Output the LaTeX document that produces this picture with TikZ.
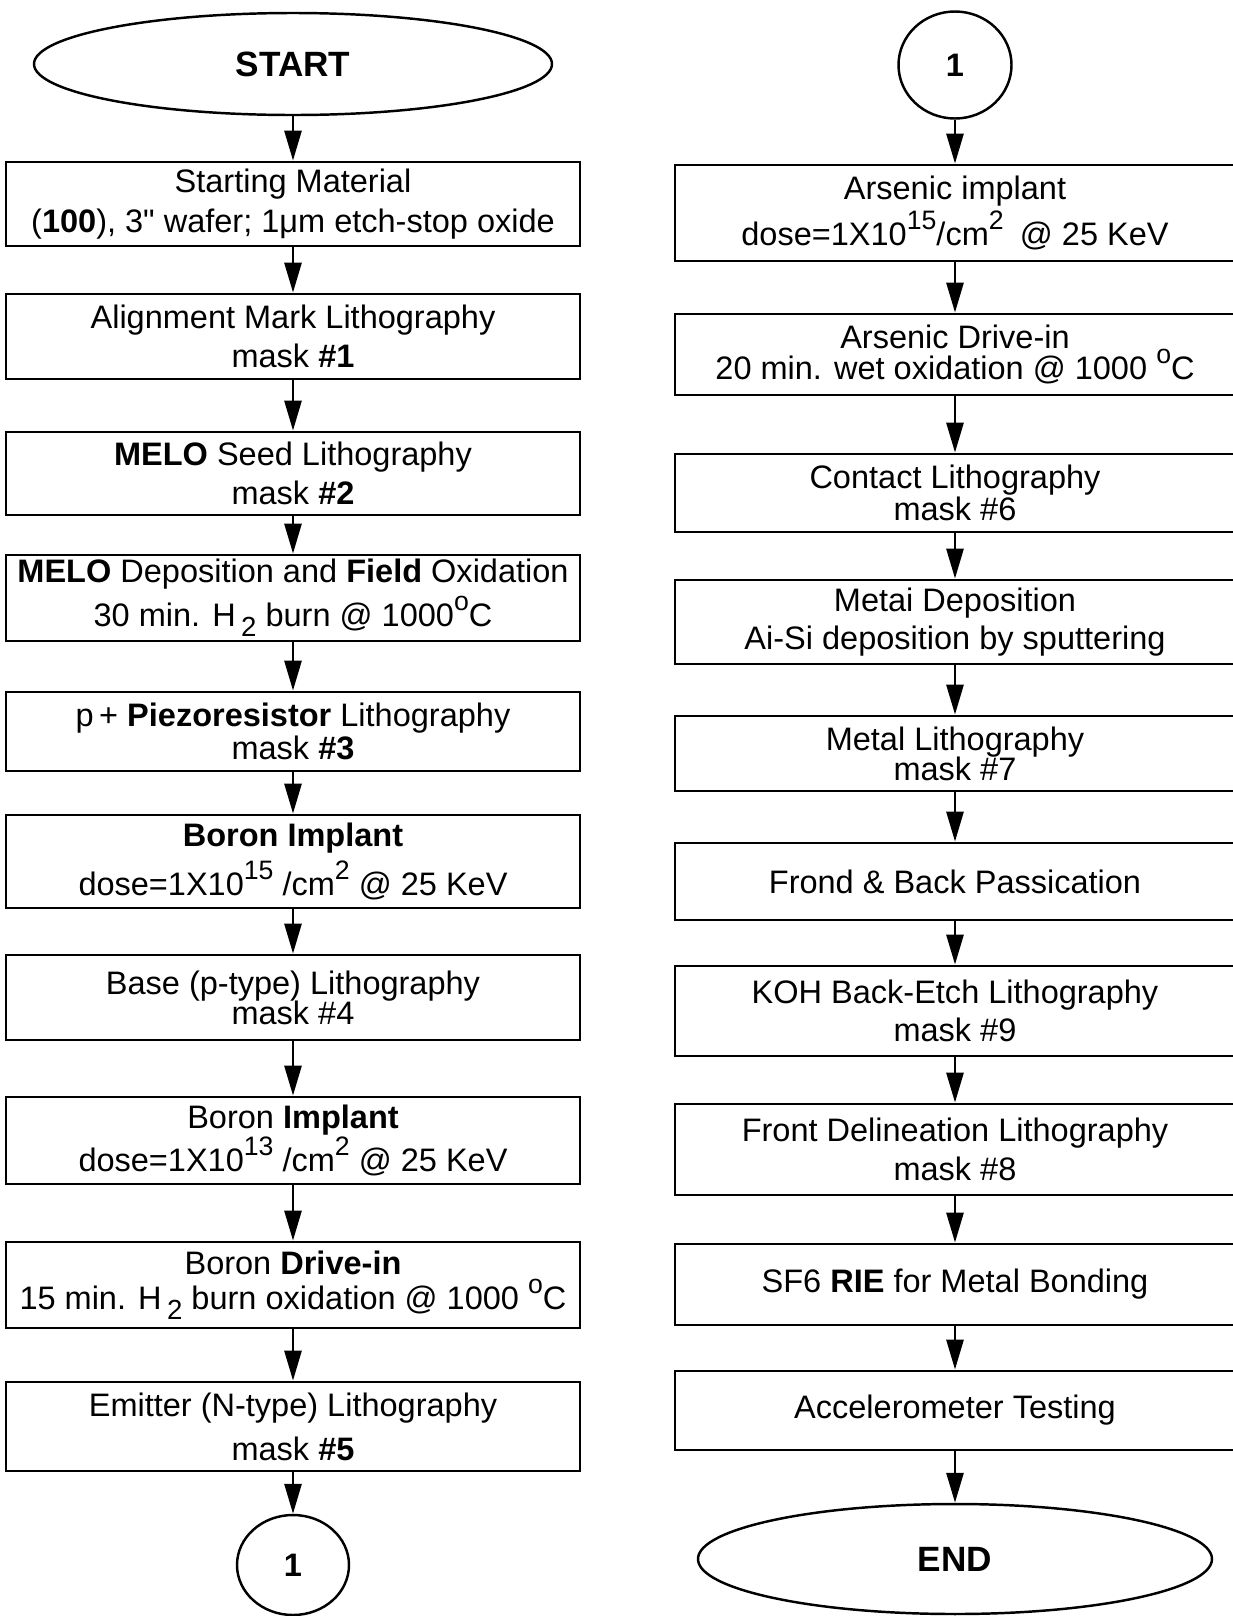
\documentclass[tikz,border=0pt]{standalone}
\usepackage{fontspec}
\setmainfont{Liberation Sans}
\newfontfamily\quotefont{Liberation Sans}
\usepackage{graphicx}
\usepackage{tikz}
\usetikzlibrary{shapes.geometric,arrows.meta}
\newcommand{\boxfont}{\fontsize{18.5}{22}\selectfont}
\newcommand{\upr}[1]{\raisebox{0.5em}{\scalebox{0.82}{#1}}}
\newcommand{\dnr}[1]{\raisebox{-0.3em}{\scalebox{0.85}{#1}}}
\tikzset{proc/.style={draw, line width=1.6pt, inner sep=0pt, align=center, font=\boxfont},
         lproc/.style={proc, minimum width=11.48cm},
         rproc/.style={proc, minimum width=11.2cm},
         term/.style={draw, ellipse, line width=1.4pt, inner sep=0pt, font=\fontsize{20}{24}\selectfont\bfseries},
         conn/.style={draw, ellipse, line width=1.4pt, inner sep=0pt, minimum width=2.24cm, minimum height=2.04cm, font=\boxfont\bfseries},
         flow/.style={line width=1.6pt, -{Triangle[length=0.6cm, width=0.34cm]}}}

\begin{document}
\begin{tikzpicture}
    \useasboundingbox (0,0) rectangle (24.64,-32.32);

    \node (start) at (5.86cm, -1.28cm) [term, minimum width=10.36cm, minimum height=2.04cm] {START};
    \node (l1) at (5.86cm, -4.08cm) [lproc, minimum height=1.68cm] {Starting Material\\[1pt] (\textbf{100}), 3{\quotefont"} wafer; 1μm etch-stop oxide};
    \node (l2) at (5.86cm, -6.73cm) [lproc, minimum height=1.70cm] {Alignment Mark Lithography\\ mask \textbf{\#1}};
    \node (l3) at (5.86cm, -9.47cm) [lproc, minimum height=1.66cm] {\textbf{MELO} Seed Lithography\\ mask \textbf{\#2}};
    \node (l4) at (5.86cm, -11.96cm) [lproc, minimum height=1.72cm] {\textbf{MELO} Deposition and \textbf{Field} Oxidation\\[3pt] 30 min. H\,\dnr{2} burn @ 1000\upr{o}C};
    \node (l5) at (5.86cm, -14.63cm) [lproc, minimum height=1.58cm] {p\,+ \textbf{Piezoresistor} Lithography\\[-3pt] mask \textbf{\#3}};
    \node (l6) at (5.86cm, -17.23cm) [lproc, minimum height=1.86cm] {\textbf{Boron Implant}\\[3pt] dose=1X10\upr{15} /cm\upr{2} @ 25 KeV};
    \node (l7) at (5.86cm, -19.95cm) [lproc, minimum height=1.70cm] {Base (p-type) Lithography\\[-5pt] mask \#4};
    \node (l8) at (5.86cm, -22.81cm) [lproc, minimum height=1.74cm] {Boron \textbf{Implant}\\ dose=1X10\upr{13} /cm\upr{2} @ 25 KeV};
    \node (l9) at (5.86cm, -25.70cm) [lproc, minimum height=1.72cm] {Boron \textbf{Drive-in}\\[-2pt] 15 min. H\,\dnr{2} burn oxidation @ 1000 \upr{o}C};
    \node (l10) at (5.86cm, -28.53cm) [lproc, minimum height=1.78cm] {Emitter (N-type) Lithography\\[3pt] mask \textbf{\#5}};
    \node (c1) at (5.86cm, -31.30cm) [conn, minimum height=2.0cm] {1};

    \draw (start) edge[flow] (l1);
    \draw (l1) edge[flow] (l2);
    \draw (l2) edge[flow] (l3);
    \draw (l3) edge[flow] (l4);
    \draw (l4) edge[flow] (l5);
    \draw (l5) edge[flow] (l6);
    \draw (l6) edge[flow] (l7);
    \draw (l7) edge[flow] (l8);
    \draw (l8) edge[flow] (l9);
    \draw (l9) edge[flow] (l10);
    \draw (l10) edge[flow] (c1);

    \node (c2) at (19.10cm, -1.30cm) [conn, minimum width=2.26cm, minimum height=2.14cm] {1};
    \node (r1) at (19.10cm, -4.26cm) [rproc, minimum height=1.92cm] {Arsenic implant\\[2pt] dose=1X10\upr{15}/cm\upr{2}\enspace @ 25 KeV};
    \node (r2) at (19.10cm, -7.09cm) [rproc, minimum height=1.62cm] {Arsenic Drive-in\\[-4pt] 20 min. wet oxidation @ 1000 \upr{o}C};
    \node (r3) at (19.10cm, -9.86cm) [rproc, minimum height=1.56cm] {Contact Lithography\\[-4pt] mask \#6};
    \node (r4) at (19.10cm, -12.44cm) [rproc, minimum height=1.68cm] {Metai Deposition\\ Ai-Si deposition by sputtering};
    \node (r5) at (19.10cm, -15.07cm) [rproc, minimum height=1.50cm] {Metal Lithography\\[-5pt] mask \#7};
    \node (r6) at (19.10cm, -17.63cm) [rproc, minimum height=1.54cm] {Frond \& Back Passication};
    \node (r7) at (19.10cm, -20.22cm) [rproc, minimum height=1.80cm] {KOH Back-Etch Lithography\\ mask \#9};
    \node (r8) at (19.10cm, -22.99cm) [rproc, minimum height=1.82cm] {Front Delineation Lithography\\ mask \#8};
    \node (r9) at (19.10cm, -25.69cm) [rproc, minimum height=1.62cm] {SF6 \textbf{RIE} for Metal Bonding};
    \node (r10) at (19.10cm, -28.21cm) [rproc, minimum height=1.58cm] {Accelerometer Testing};
    \node (end) at (19.10cm, -31.18cm) [term, minimum width=10.28cm, minimum height=2.2cm] {END};

    \draw (c2) edge[flow] (r1);
    \draw (r1) edge[flow] (r2);
    \draw (r2) edge[flow] (r3);
    \draw (r3) edge[flow] (r4);
    \draw (r4) edge[flow] (r5);
    \draw (r5) edge[flow] (r6);
    \draw (r6) edge[flow] (r7);
    \draw (r7) edge[flow] (r8);
    \draw (r8) edge[flow] (r9);
    \draw (r9) edge[flow] (r10);
    \draw (r10) edge[flow] (end);
\end{tikzpicture}
\end{document}
